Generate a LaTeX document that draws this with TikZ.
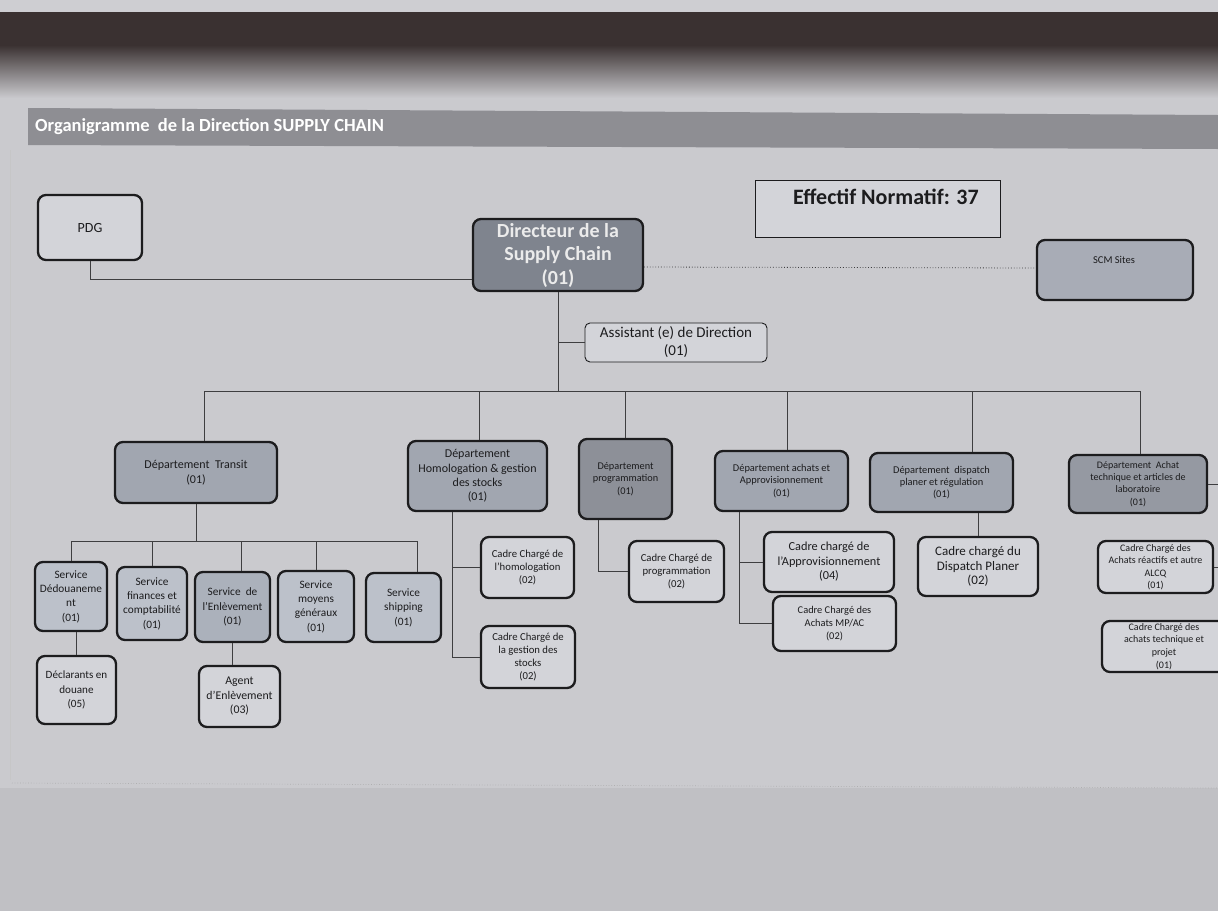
\documentclass[tikz,border=0pt]{standalone}
\usepackage{fontspec}
\setmainfont{Carlito}
\usetikzlibrary{calc}
\definecolor{paper}{HTML}{CACACE}
\definecolor{shadow}{HTML}{3A3131}
\definecolor{band}{HTML}{8E8E93}
\definecolor{lightbox}{HTML}{D3D4D9}
\definecolor{dirfill}{HTML}{7F848E}
\definecolor{deptfill}{HTML}{A1A6B0}
\definecolor{progfill}{HTML}{8D9098}
\definecolor{servfill}{HTML}{BCC1CA}
\definecolor{servdark}{HTML}{ABB1BB}
\definecolor{scmfill}{HTML}{A8ACB6}
\definecolor{ink}{HTML}{1C1C1E}
\tikzset{
  x=1pt, y=-1pt,
  orgbox/.style={draw=ink, line width=2.3pt, rounded corners=8pt, fill=lightbox,
    align=center, inner sep=1pt, text=ink, font=\fontsize{10.5}{13}\selectfont},
  deptbox/.style={orgbox, fill=deptfill},
  servbox/.style={orgbox, fill=servfill, font=\fontsize{11.3}{14.4}\selectfont},
  cadrebox/.style={orgbox, font=\fontsize{10.7}{12.8}\selectfont},
  thinbox/.style={draw=ink, line width=0.9pt, rounded corners=5pt, fill=lightbox,
    align=center, inner sep=1pt, text=ink, font=\fontsize{15}{18}\selectfont},
  link/.style={draw=ink!85, line width=0.8pt},
  sz/.style 2 args={minimum width=#1, minimum height=#2},
}
\begin{document}
\begin{tikzpicture}
\useasboundingbox (0,0) rectangle (1218,911);
\clip (0,0) rectangle (1218,911);

% sheet and shadow across the top
\fill[paper] (0,0) rectangle (1218,911);
\fill[paper!95!black] (0,788) rectangle (1218,911);
\fill[paper!92!white] (0,0) rectangle (1218,12);
\fill[shadow] (0,12) rectangle (1218,46);
\shade[top color=shadow, bottom color=paper] (0,45) rectangle (1218,98);
\draw[ink!25, line width=0.6pt] (10,150) -- (10,780);
\draw[ink!35, line width=0.7pt, dotted] (12,783) -- (1218,788);

% title band
\fill[band] (28,108) -- (1218,115) -- (1218,149) -- (28,145) -- cycle;
\node[anchor=west, text=white, inner sep=0pt, font=\bfseries\fontsize{18.5}{20}\selectfont] (title) at (35,127)
  {Organigramme\ \ de la Direction SUPPLY CHAIN};

% top level
\node[orgbox, sz={104pt}{65pt}, font=\fontsize{14}{16}\selectfont] (pdg) at (90,227.5) {PDG};
\node[orgbox, sz={170pt}{72pt}, fill=dirfill, text=white!92!black,
      font=\bfseries\fontsize{20}{23.5}\selectfont] (dir) at (558,255)
  {Directeur de la\\Supply Chain\\(01)};
\node[draw=ink, line width=1pt, sz={245pt}{57pt}, fill=lightbox] (eff) at (877.5,208.5) {};
\node[anchor=west, inner sep=0pt, text=ink, font=\bfseries\fontsize{22}{24}\selectfont] (efftxt) at (793,197)
  {Effectif Normatif: 37};
\node[orgbox, sz={156pt}{60pt}, fill=scmfill] (scm) at (1115,270) {};
\node[text=ink, inner sep=0pt, font=\fontsize{10.5}{12}\selectfont] (scmtxt) at (1114,260) {SCM Sites};
\node[thinbox, sz={182pt}{39pt}] (assist) at (676,342.5) {Assistant (e) de Direction\\(01)};

\draw[link] (pdg.south) -- ++(0,18) coordinate (pdgc) -- (pdgc -| dir.west);
\draw[ink!85, line width=0.8pt, dotted] ($(dir.east |- scm.west)+(0,-3)$) -- ($(scm.west)+(0,-2)$);
\coordinate (busL) at (204,391);
\coordinate (busR) at (1140,391);
\draw[link] (dir.south) -- (dir.south |- busL);
\draw[link] (dir.south |- assist.west) -- (assist.west);
\draw[link] (busL) -- (busR);

% departments
\node[deptbox, sz={162pt}{61pt}, font=\fontsize{12}{15}\selectfont] (transit) at (196,472.5) {Département\ \ Transit\\(01)};
\node[deptbox, sz={139pt}{70pt}, font=\fontsize{12}{14.2}\selectfont] (homol) at (477.5,476)
  {Département\\Homologation \& gestion\\des stocks\\(01)};
\node[deptbox, sz={93pt}{80pt}, fill=progfill, font=\fontsize{10.3}{12.5}\selectfont] (prog) at (625.5,479)
  {Département\\programmation\\(01)};
\node[deptbox, sz={133pt}{60pt}, font=\fontsize{10.4}{12.7}\selectfont] (achats) at (781.5,481)
  {Département achats et\\Approvisionnement\\(01)};
\node[deptbox, sz={143pt}{59pt}, font=\fontsize{10.4}{12.3}\selectfont] (dispatch) at (941.5,482.5)
  {Département\ \ dispatch\\planer et régulation\\(01)};
\node[deptbox, sz={138pt}{58pt}, fill=progfill!60!deptfill, font=\fontsize{10}{12.3}\selectfont] (achtech) at (1138,484)
  {Département\ \ Achat\\technique et articles de\\laboratoire\\(01)};

\coordinate (d2) at (479,391);
\coordinate (d3) at (625,391);
\coordinate (d4) at (787,391);
\coordinate (d5) at (972,391);
\draw[link] (busL) -- (busL |- transit.north);
\draw[link] (d2) -- (d2 |- homol.north);
\draw[link] (d3) -- (d3 |- prog.north);
\draw[link] (d4) -- (d4 |- achats.north);
\draw[link] (d5) -- (d5 |- dispatch.north);
\draw[link] (busR) -- (busR |- achtech.north);

% services of the transit department
\node[servbox, sz={72pt}{69pt}] (dedou) at (71,596.5) {Service\\Dédouaneme\\nt\\(01)};
\node[servbox, sz={70pt}{73pt}] (finances) at (152,603.5) {Service\\finances et\\comptabilité\\(01)};
\node[servbox, sz={75pt}{70pt}, fill=servdark] (enlev) at (232.5,607) {Service\ \ de\\l'Enlèvement\\(01)};
\node[servbox, sz={76pt}{71pt}] (moyens) at (316,606.5) {Service\\moyens\\généraux\\(01)};
\node[servbox, sz={75pt}{69pt}] (shipping) at (403.5,607.5) {Service\\shipping\\(01)};
\node[cadrebox, sz={79pt}{68pt}, font=\fontsize{11.1}{14.3}\selectfont] (decl) at (76.5,690) {Déclarants en\\douane\\(05)};
\node[cadrebox, sz={81pt}{61pt}, font=\fontsize{11.8}{14.5}\selectfont] (agent) at (239.5,696.5) {Agent\\d'Enlèvement\\(03)};

\coordinate (sbL) at (71,541);
\coordinate (s2) at (152,541);
\coordinate (s3) at (241,541);
\coordinate (s4) at (316,541);
\coordinate (sbR) at (417,541);
\draw[link] (transit.south) -- (transit.south |- sbL);
\draw[link] (sbL) -- (sbR);
\draw[link] (sbL) -- (sbL |- dedou.north);
\draw[link] (s2) -- (s2 |- finances.north);
\draw[link] (s3) -- (s3 |- enlev.north);
\draw[link] (s4) -- (s4 |- moyens.north);
\draw[link] (sbR) -- (sbR |- shipping.north);
\draw[link] (decl.north |- dedou.south) -- (decl.north);
\draw[link] (enlev.south) -- (enlev.south |- agent.north);

% staff of the other departments
\node[cadrebox, sz={93pt}{61pt}] (homolo) at (527.5,567.5) {Cadre Chargé de\\l'homologation\\(02)};
\node[cadrebox, sz={94pt}{62pt}] (stocks) at (528,657) {Cadre Chargé de\\la gestion des\\stocks\\(02)};
\node[cadrebox, sz={95pt}{61pt}, font=\fontsize{10.7}{13}\selectfont] (cprog) at (676.5,571.5) {Cadre Chargé de\\programmation\\(02)};
\node[cadrebox, sz={130pt}{60pt}, font=\fontsize{12.3}{14.5}\selectfont] (approv) at (829,562) {Cadre chargé de\\l'Approvisionnement\\(04)};
\node[cadrebox, sz={123pt}{55pt}, font=\fontsize{10.4}{13}\selectfont] (cmp) at (834.5,623.5) {Cadre Chargé des\\Achats MP/AC\\(02)};
\node[cadrebox, sz={120pt}{59pt}, font=\fontsize{13}{14.5}\selectfont] (cdisp) at (978,566.5) {Cadre chargé du\\Dispatch Planer\\(02)};
\node[cadrebox, sz={115pt}{52pt}, font=\fontsize{10}{12.5}\selectfont] (alcq) at (1155.5,567) {Cadre Chargé des\\Achats réactifs et autre\\ALCQ\\(01)};
\node[cadrebox, sz={124pt}{51pt}, font=\fontsize{10}{12.7}\selectfont] (projet) at (1164,646.5) {Cadre Chargé des\\achats technique et\\projet\\(01)};

\coordinate (hx) at (452,0);
\draw[link] (hx |- homol.south) -- (hx |- stocks.west) -- (stocks.west);
\draw[link] (hx |- homolo.west) -- (homolo.west);
\coordinate (px) at (598,0);
\draw[link] (px |- prog.south) -- (px |- cprog.west) -- (cprog.west);
\coordinate (ax) at (739,0);
\draw[link] (ax |- achats.south) -- (ax |- cmp.west) -- (cmp.west);
\draw[link] (ax |- approv.west) -- (approv.west);
\draw[link] (cdisp.north |- dispatch.south) -- (cdisp.north);
\coordinate (edge1) at (1218,484);
\coordinate (edge2) at (1218,567);
\draw[link] (achtech.east) -- (edge1);
\draw[link] (alcq.east) -- (edge2);
\end{tikzpicture}
\end{document}
